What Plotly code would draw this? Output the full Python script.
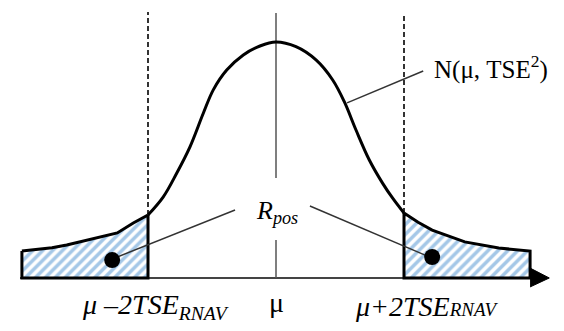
import plotly.graph_objects as go

# curve, x in TSE units around mu, y scaled so peak = 1
curve_x = [-2.0, -1.761, -1.552, -1.344, -1.136, -0.98, -0.77, -0.511, -0.25, 0.0,
           0.3125, 0.625, 0.886, 1.067, 1.25, 1.458, 1.667, 1.823, 2.0]
curve_y = [0.267, 0.344, 0.444, 0.556, 0.698, 0.797, 0.881, 0.945, 0.983, 1.0,
           0.980, 0.924, 0.839, 0.747, 0.627, 0.500, 0.401, 0.338, 0.275]

left_tail_x = [-3.97, -3.5, -3.27, -2.75, -2.48, -2.23, -2.0]
left_tail_y = [0.114, 0.128, 0.140, 0.174, 0.191, 0.233, 0.267]
right_tail_x = [2.0, 2.22, 2.44, 2.95, 3.48, 3.97]
right_tail_y = [0.275, 0.236, 0.203, 0.153, 0.127, 0.114]

bounds_x = [-2.0, 2.0]
bounds_top = [1.127, 1.114]
mu_x = 0.0
mu_segments = [(1.123, 0.424), (0.161, 0.0)]

axis_x = [-4.0, 3.97]
arrow_x = [3.97, 4.27, 3.97]
arrow_y = [0.042, 0.0, -0.038]

dot_x = [-2.56, 2.44]
dot_y = [0.076, 0.089]
rpos_x, rpos_y = 0.02, 0.28
rpos_line_x = [[-2.48, -0.64], [0.53, 2.33]]
rpos_line_y = [[0.089, 0.288], [0.305, 0.097]]
n_line_x = [1.11, 2.30]
n_line_y = [0.742, 0.877]

tick_labels = ["<i>μ –2TSE</i><sub><i>RNAV</i></sub>", "μ",
               "<i>μ+2TSE</i><span style='font-size:19px'><i>RNAV</i></span>"]
tick_x = [-1.89, 0.0, 2.36]
tick_y = [-0.12, -0.105, -0.12]
curve_label = "N(μ, TSE<sup>2</sup>)"

FONT = "Liberation Serif"
hatch = dict(shape="/", fgcolor="#4a90d0", bgcolor="white", size=7, solidity=0.5)

fig = go.Figure()

# x axis line with arrow
fig.add_trace(go.Scatter(x=axis_x, y=[0, 0], mode="lines",
                         line=dict(color="#444444", width=2)))
fig.add_trace(go.Scatter(x=arrow_x, y=arrow_y, mode="lines", fill="toself",
                         fillcolor="black", line=dict(color="black", width=1)))

# hatched tail regions
for tx, ty in [(left_tail_x, left_tail_y), (right_tail_x, right_tail_y)]:
    px = list(tx) + [tx[-1], tx[0], tx[0]]
    py = list(ty) + [0, 0, ty[0]]
    fig.add_trace(go.Scatter(x=px, y=py, mode="lines", fill="toself",
                             fillpattern=hatch, fillcolor="white",
                             line=dict(color="black", width=3)))

# dashed bounds
for bx, bt, cy in zip(bounds_x, bounds_top, [curve_y[0], curve_y[-1]]):
    fig.add_trace(go.Scatter(x=[bx, bx], y=[cy, bt], mode="lines",
                             line=dict(color="#333333", width=2, dash="5px,3px")))

# mu line
for top, bot in mu_segments:
    fig.add_trace(go.Scatter(x=[mu_x, mu_x], y=[top, bot], mode="lines",
                             line=dict(color="#555555", width=1.5)))

# normal curve
fig.add_trace(go.Scatter(x=curve_x, y=curve_y, mode="lines",
                         line=dict(color="black", width=3, shape="spline")))

# pointer lines
fig.add_trace(go.Scatter(x=n_line_x, y=n_line_y, mode="lines",
                         line=dict(color="#333333", width=1.5)))
for lx, ly in zip(rpos_line_x, rpos_line_y):
    fig.add_trace(go.Scatter(x=lx, y=ly, mode="lines",
                             line=dict(color="#333333", width=1.5)))
fig.add_trace(go.Scatter(x=dot_x, y=dot_y, mode="markers",
                         marker=dict(color="black", size=16)))

fig.add_annotation(x=rpos_x, y=rpos_y, text="<i>R</i><sub><i>pos</i></sub>",
                   showarrow=False, font=dict(family=FONT, size=26, color="black"))
fig.add_annotation(x=2.43, y=0.89, text=curve_label, xanchor="left",
                   showarrow=False, font=dict(family=FONT, size=25, color="black"))
for t, x, y in zip(tick_labels, tick_x, tick_y):
    fig.add_annotation(x=x, y=y, text=t, showarrow=False,
                       font=dict(family=FONT, size=28, color="black"))

fig.update_traces(hoverinfo="skip", selector=dict(type="scatter"))
# page body has an 8px margin, so the figure is 8px smaller than the window
fig.update_layout(
    width=556, height=323, showlegend=False,
    margin=dict(l=0, r=0, t=0, b=0),
    plot_bgcolor="white", paper_bgcolor="white",
    xaxis=dict(range=[-4.1875, 4.5], visible=False, fixedrange=True),
    yaxis=dict(range=[-0.2246, 1.144], visible=False, fixedrange=True),
)

fig.write_html("out.html")
